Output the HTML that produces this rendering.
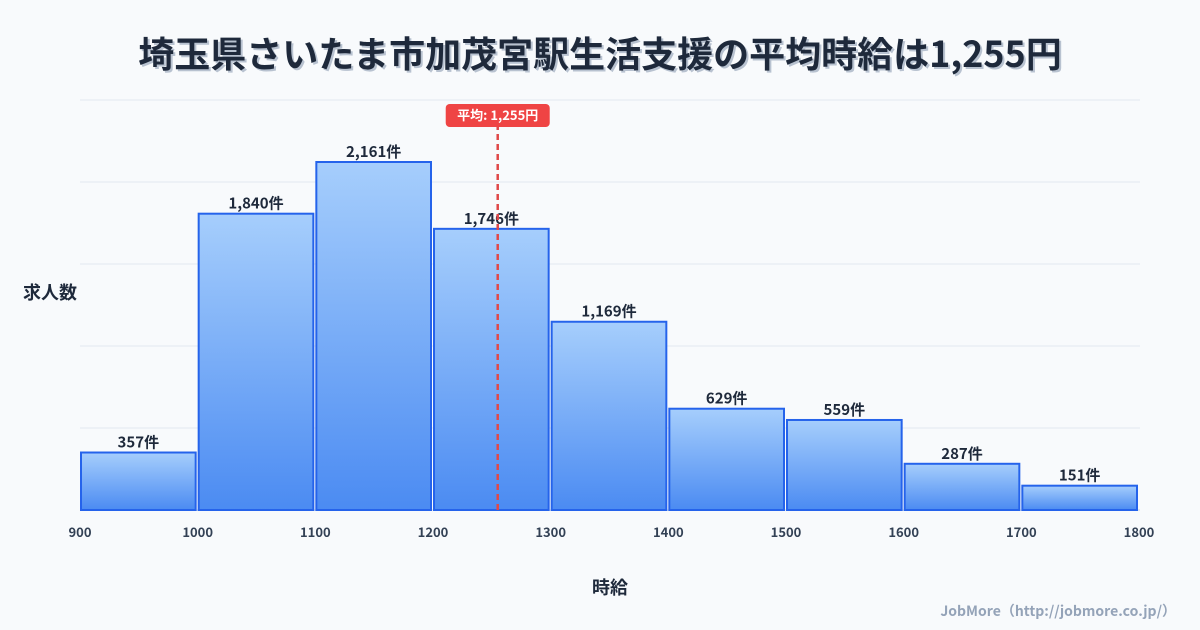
<!DOCTYPE html>
<html><head><meta charset="utf-8"><style>
html,body{margin:0;padding:0;background:#f8fafc;}
svg{display:block;font-family:"Noto Sans CJK JP","Liberation Sans",sans-serif;}
</style></head><body>
<svg id="chart" width="1200" height="630" viewBox="0 0 1200 630">
<defs><linearGradient id="g" x1="0" y1="0" x2="0" y2="1"><stop offset="0" stop-color="#a6cefc"/><stop offset="1" stop-color="#4b8bf2"/></linearGradient></defs>
<rect width="1200" height="630" fill="#f8fafc"/>
<text x="602" y="69" text-anchor="middle" font-size="36" font-weight="bold" fill="#b8c2d0">埼玉県さいたま市加茂宮駅生活支援の平均時給は1,255円</text>
<text x="600" y="67" text-anchor="middle" font-size="36" font-weight="bold" fill="#1e293b">埼玉県さいたま市加茂宮駅生活支援の平均時給は1,255円</text>
<g id="grid"></g><g id="bars"></g><g id="ticks"></g><g id="mean"></g>
<text x="50" y="299" text-anchor="middle" font-size="18" font-weight="bold" fill="#1e293b">求人数</text>
<text x="610" y="594" text-anchor="middle" font-size="18" font-weight="bold" fill="#1e293b">時給</text>
<text x="1176" y="616" text-anchor="end" font-size="14" font-weight="bold" fill="#94a3b8">JobMore（http://jobmore.co.jp/）</text>
</svg>
<script>
const binStarts=[900,1000,1100,1200,1300,1400,1500,1600,1700];
const counts=[357,1840,2161,1746,1169,629,559,287,151];
const countLabels=["357件","1,840件","2,161件","1,746件","1,169件","629件","559件","287件","151件"];
const tickValues=[900,1000,1100,1200,1300,1400,1500,1600,1700,1800];
const meanValue=1255;
const meanLabel="平均: 1,255円";
const binWidth=100;
const NS="http://www.w3.org/2000/svg";
const X0=80,X1=1139,Y0=510,Y1=100,XMIN=900,XMAX=1800,YMAX=2546;
const x=v=>X0+(v-XMIN)/(XMAX-XMIN)*(X1-X0);
const y=v=>Y0-v/YMAX*(Y0-Y1);
function mk(t,a,p){const e=document.createElementNS(NS,t);for(const k in a)e.setAttribute(k,a[k]);p.appendChild(e);return e;}
const grid=document.getElementById('grid');
for(let i=0;i<=5;i++){const gy=Y0-i*(Y0-Y1)/5;
const l=mk('line',{x1:X0,x2:X1+1,y1:gy,y2:gy,stroke:i==0?'#cbd5e1':'#e2e8f0','stroke-width':1},grid);

}
const bars=document.getElementById('bars');
counts.forEach((c,i)=>{const xa=x(binStarts[i])+1,xb=x(binStarts[i]+binWidth)-2,yt=y(c);
const r=mk('rect',{x:xa,y:yt,width:xb-xa,height:Y0-yt,fill:'url(#g)',stroke:'#2563eb','stroke-width':2},bars);


const t=mk('text',{x:(xa+xb)/2,y:yt-5,'text-anchor':'middle','font-size':15,'font-weight':'bold',fill:'#1e293b'},bars);
t.textContent=countLabels[i];

});
const ticks=document.getElementById('ticks');
tickValues.forEach(v=>{const t=mk('text',{x:x(v),y:537,'text-anchor':'middle','font-size':13,'font-weight':'bold',fill:'#334155'},ticks);
t.textContent=v;

});
const mean=document.getElementById('mean');const mx=x(meanValue);
const ml=mk('line',{x1:mx,x2:mx,y1:124,y2:Y0,stroke:'#e04848','stroke-width':2.5,'stroke-dasharray':'6,4'},mean);


const mb=mk('rect',{x:mx-52,y:104,width:104,height:23,rx:4,fill:'#ef4444'},mean);


const mt=mk('text',{x:mx,y:120,'text-anchor':'middle','font-size':13,'font-weight':'bold',fill:'#ffffff'},mean);
mt.textContent=meanLabel;


</script>
</body></html>
